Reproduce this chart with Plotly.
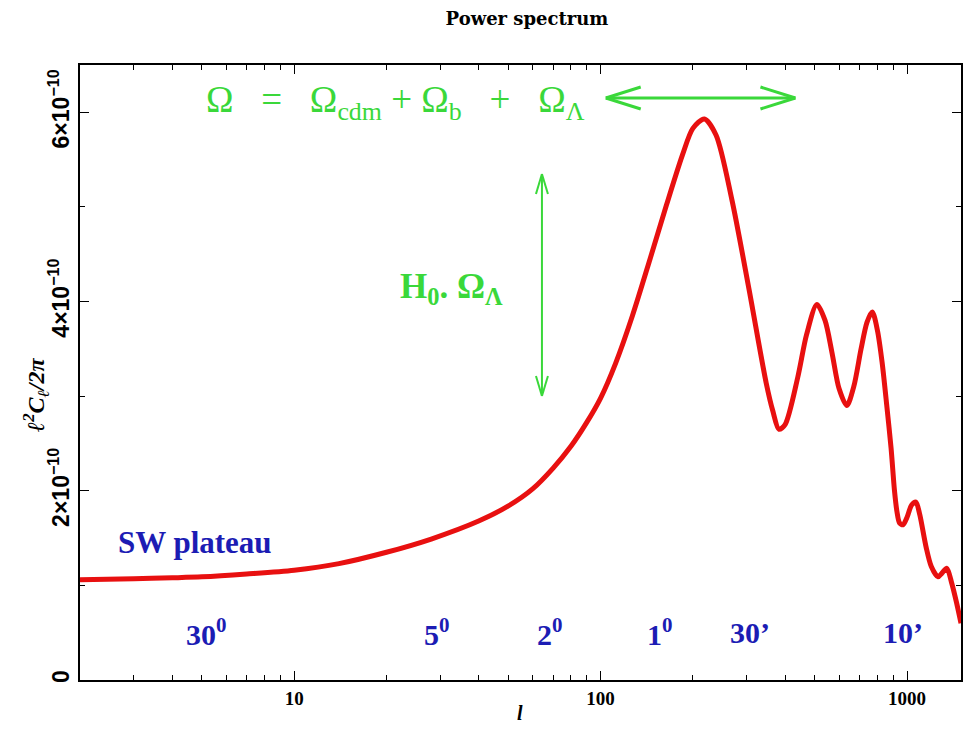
import numpy as np
import plotly.graph_objects as go

# ---------------- data ----------------
ell = [2, 3, 4, 5, 7, 10, 14, 20, 28, 40, 50, 60, 70, 80, 90, 100, 112, 127, 145, 164,
       185, 200, 218, 238, 268, 305, 347, 365, 382, 400, 440, 470, 508, 540, 569, 600,
       636, 670, 708, 740, 770, 800, 829, 860, 887, 910, 927, 945, 970, 1000, 1035,
       1069, 1100, 1153, 1200, 1262, 1300, 1349, 1400, 1450, 1500]
cl_e10 = [1.06, 1.07, 1.08, 1.09, 1.12, 1.16, 1.23, 1.35, 1.49, 1.68, 1.84, 2.02, 2.24,
          2.47, 2.72, 2.98, 3.35, 3.85, 4.45, 5.02, 5.55, 5.83, 5.93, 5.76, 5.08, 4.13,
          3.14, 2.84, 2.65, 2.70, 3.20, 3.65, 3.97, 3.80, 3.46, 3.08, 2.90, 3.10, 3.50,
          3.78, 3.89, 3.70, 3.36, 2.88, 2.45, 2.00, 1.78, 1.66, 1.64, 1.72, 1.85, 1.88,
          1.75, 1.41, 1.20, 1.09, 1.13, 1.18, 1.02, 0.82, 0.60]
cl = [v * 1e-10 for v in cl_e10]

y_tickvals = [0, 2e-10, 4e-10, 6e-10]
y_ticktext = ["<b>0</b>", "<b>2×10<sup>−10</sup></b>", "<b>4×10<sup>−10</sup></b>",
              "<b>6×10<sup>−10</sup></b>"]
x_tickvals = [10, 100, 1000]
x_ticktext = ["<b>10</b>", "<b>100</b>", "<b>1000</b>"]

angle_labels = ["30<sup>0</sup>", "5<sup>0</sup>", "2<sup>0</sup>", "1<sup>0</sup>", "30’", "10’"]
angle_px = [207, 438, 551, 661, 752, 905]

# ---------------- layout geometry ----------------
W, H = 970, 745
L, R, T, B = 80, 963, 65, 680


def px2paper(px, py):
    return (px - L) / (R - L), (B - py) / (B - T)


GREEN = "#3ad83a"
BLUE = "#1c1cb4"
RED = "#e81010"

fig = go.Figure()
fig.add_trace(go.Scatter(x=ell, y=cl, mode="lines",
                         line=dict(color=RED, width=5, shape="spline", smoothing=0.8),
                         showlegend=False, hoverinfo="skip"))

fig.update_layout(
    width=W, height=H,
    margin=dict(l=L, r=W - R, t=T, b=H - B),
    paper_bgcolor="white", plot_bgcolor="white",
    title=dict(text="<b>Power spectrum</b>", x=527 / W, xanchor="center",
               y=1 - 19 / H, yanchor="middle",
               font=dict(family="DejaVu Serif", size=18, color="black")),
    font=dict(family="Liberation Sans", color="black"),
)

fig.update_xaxes(type="log", range=[np.log10(2), np.log10(1500)],
                 showline=True, linecolor="black", linewidth=1.5, mirror="ticks",
                 ticks="inside", ticklen=9, tickwidth=1, tickcolor="black",
                 tickvals=x_tickvals, ticktext=x_ticktext,
                 tickfont=dict(family="Liberation Serif", size=19, color="black"),
                 minor=dict(ticks="inside", ticklen=5, tickwidth=1, tickcolor="black",
                            dtick="D1", showgrid=False),
                 showgrid=False, zeroline=False)
fig.update_yaxes(range=[0, 6.5e-10],
                 showline=True, linecolor="black", linewidth=1.5, mirror="ticks",
                 ticks="inside", ticklen=9, tickwidth=1, tickcolor="black",
                 tickvals=y_tickvals, ticktext=y_ticktext, tickangle=-90,
                 tickfont=dict(family="Liberation Sans", size=23, color="black"),
                 minor=dict(ticks="inside", ticklen=5, tickwidth=1, tickcolor="black",
                            dtick=1e-10, showgrid=False),
                 showgrid=False, zeroline=False)


def A(text, px, py, size, color, family="Liberation Serif", angle=0):
    x, y = px2paper(px, py)
    return dict(text=text, xref="paper", yref="paper", x=x, y=y, showarrow=False,
                xanchor="center", yanchor="middle", textangle=angle,
                font=dict(family=family, size=size, color=color))


sp = "\u00a0"
formula = ("Ω" + sp * 3 + "=" + sp * 3 + "Ω<sub>cdm</sub> + Ω<sub>b</sub>" + sp * 3 + "+"
           + sp * 3 + "Ω<sub>Λ</sub>")

ann = []
ann.append(A("<b><i>l</i></b>", 521, 713, 20, "black"))
ann.append(A("<b><i>ℓ<sup>2</sup>C<sub>ℓ</sub>/2π</i></b>", 36, 395, 24, "black", angle=-90))
ann.append(A(formula, 396, 103, 37, GREEN))
ann.append(A("<b>H<sub>0</sub>. Ω<sub>Λ</sub></b>", 452, 288, 35, GREEN))
ann.append(A("<b>SW plateau</b>", 195, 542, 31, BLUE))
for t, p in zip(angle_labels, angle_px):
    ann.append(A("<b>" + t + "</b>", p, 632, 30, BLUE))
fig.update_layout(annotations=ann)


# arrows drawn as shapes (paper coordinates)
def seg(p1, p2, w):
    x0, y0 = px2paper(*p1)
    x1, y1 = px2paper(*p2)
    return dict(type="line", xref="paper", yref="paper", x0=x0, y0=y0, x1=x1, y1=y1,
                line=dict(color=GREEN, width=w), layer="above")


shapes = []
shapes.append(seg((607, 98), (797, 98), 3))
shapes.append(seg((607, 98), (642, 87), 3))
shapes.append(seg((607, 98), (642, 109), 3))
shapes.append(seg((797, 98), (762, 87), 3))
shapes.append(seg((797, 98), (762, 109), 3))
shapes.append(seg((543, 174), (543, 396), 2))
shapes.append(seg((543, 174), (537, 194), 2))
shapes.append(seg((543, 174), (549, 194), 2))
shapes.append(seg((543, 396), (537, 376), 2))
shapes.append(seg((543, 396), (549, 376), 2))
fig.update_layout(shapes=shapes)

fig.write_html("out.html")
